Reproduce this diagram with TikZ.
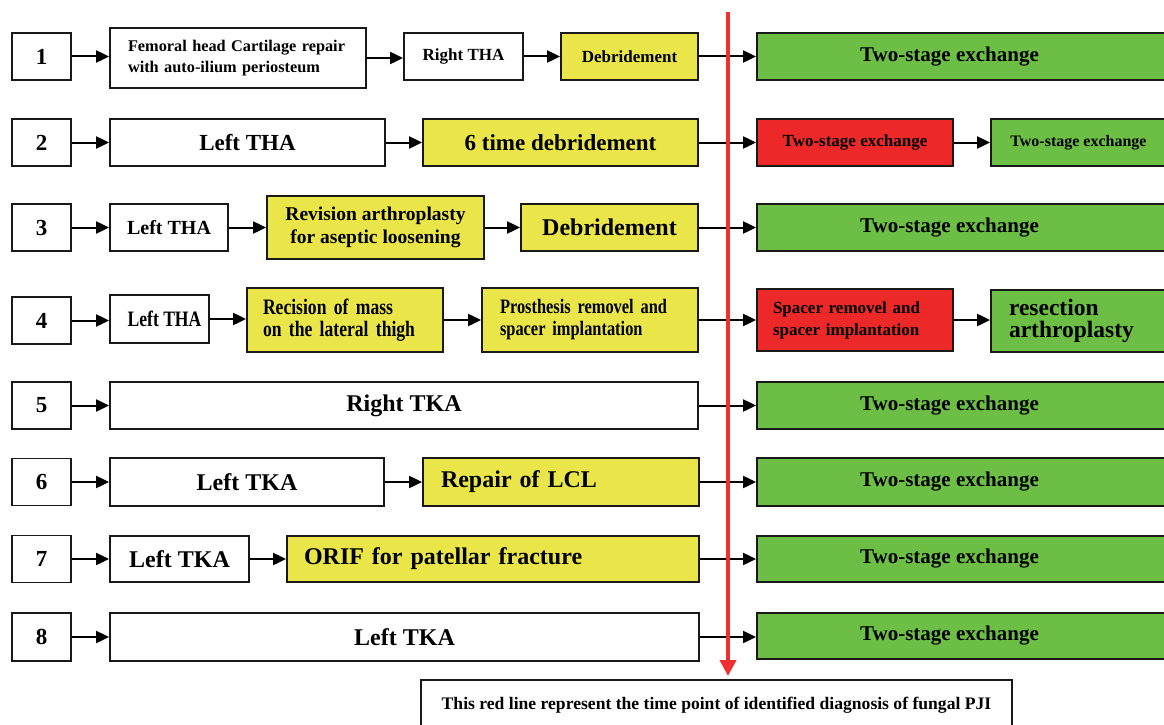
\documentclass[tikz,border=0pt]{standalone}
\usepackage{fontspec}
\setmainfont{Liberation Serif}
\newfontfamily\condfont[FakeStretch=0.8]{Liberation Serif}
\usetikzlibrary{arrows.meta}
\definecolor{ylw}{RGB}{234,230,74}
\definecolor{grn}{RGB}{108,190,69}
\definecolor{rd}{RGB}{236,40,40}
\definecolor{redline}{RGB}{240,48,48}
\tikzset{
  bx/.style={draw=black!90, line width=1.8pt, inner sep=0pt, align=center, font=\bfseries},
  numbox/.style={bx, minimum width=59pt, minimum height=47pt, font=\bfseries\fontsize{23}{26}\selectfont},
  yl/.style={fill=ylw},
  gn/.style={fill=grn},
  rdf/.style={fill=rd},
  arr/.style={line width=2pt, -{Triangle[length=13pt,width=12pt]}},
  redarr/.style={draw=redline, line width=4pt, -{Triangle[length=16pt,width=16pt]}},
  twostage/.style={bx, gn, minimum width=415pt, minimum height=47pt, font=\bfseries\fontsize{21}{24}\selectfont},
}
\begin{document}
\begin{tikzpicture}[x=1pt,y=-1pt]
\useasboundingbox[fill=white] (0,0) rectangle (1164,725);

% Row 1
\node[numbox] (n1) at (41.5,56.5) {1};
\node[bx, minimum width=256pt, minimum height=60pt, text width=220pt, align=left,
      font=\bfseries\fontsize{16.3}{21}\selectfont] (a1) at (238,58)
      {Femoral head Cartilage repair\\with auto-ilium periosteum};
\node[bx, minimum width=119pt, minimum height=47pt, font=\bfseries\fontsize{17}{20}\selectfont] (b1) at (463.5,56.5) {Right THA};
\node[bx, yl, minimum width=137pt, minimum height=47pt, font=\bfseries\fontsize{17}{20}\selectfont] (c1) at (629.5,56.5) {Debridement};
\node[twostage] (g1) at (964.5,56.5) {Two-stage exchange\kern30pt};

% Row 2
\node[numbox] (n2) at (41.5,142.5) {2};
\node[bx, minimum width=275pt, minimum height=47pt, font=\bfseries\fontsize{23}{26}\selectfont] (a2) at (247.5,142.5) {Left THA};
\node[bx, yl, minimum width=275pt, minimum height=47pt, font=\bfseries\fontsize{23}{26}\selectfont] (b2) at (560.5,142.5) {6 time debridement};
\node[bx, rdf, minimum width=196pt, minimum height=47pt, font=\bfseries\fontsize{17}{20}\selectfont] (r2) at (855,142.5) {Two-stage exchange};
\node[bx, gn, minimum width=181pt, minimum height=47pt, font=\bfseries\fontsize{16}{19}\selectfont] (g2) at (1081.5,142.5) {Two-stage exchange\kern6pt};

% Row 3
\node[numbox] (n3) at (41.5,227.5) {3};
\node[bx, minimum width=118pt, minimum height=47pt, font=\bfseries\fontsize{20}{23}\selectfont] (a3) at (169,227.5) {Left THA};
\node[bx, yl, minimum width=217pt, minimum height=63pt, font=\bfseries\fontsize{19.5}{23}\selectfont] (b3) at (375.5,227.5) {Revision arthroplasty\\for aseptic loosening};
\node[bx, yl, minimum width=177pt, minimum height=47pt, font=\bfseries\fontsize{24}{27}\selectfont] (c3) at (609.5,227.5) {Debridement};
\node[twostage] (g3) at (964.5,227.5) {Two-stage exchange\kern30pt};

% Row 4
\node[numbox] (n4) at (41.5,320.5) {4};
\node[bx, minimum width=99pt, minimum height=48pt, font=\condfont\bfseries\fontsize{22}{25}\selectfont] (a4) at (159.5,319) {\kern10pt Left THA};
\node[bx, yl, minimum width=196pt, minimum height=64pt, text width=164pt, align=left,
      font=\condfont\bfseries\fontsize{22}{22}\selectfont] (b4) at (345,320) {Recision of mass\\on the lateral thigh};
\node[bx, yl, minimum width=216pt, minimum height=64pt, text width=180pt, align=left,
      font=\condfont\bfseries\fontsize{20.5}{22}\selectfont] (c4) at (590,320) {Prosthesis removel and\\spacer implantation};
\node[bx, rdf, minimum width=196pt, minimum height=62pt, text width=164pt, align=left,
      font=\bfseries\fontsize{17}{22}\selectfont] (r4) at (855,320) {Spacer removel and\\spacer implantation};
\node[bx, gn, minimum width=181pt, minimum height=62pt, text width=145pt, align=left,
      font=\bfseries\fontsize{23.5}{22.5}\selectfont] (g4) at (1081.5,321) {resection\\arthroplasty};

% Row 5
\node[numbox] (n5) at (41.5,405.5) {5};
\node[bx, minimum width=588pt, minimum height=47pt, font=\bfseries\fontsize{24}{27}\selectfont] (a5) at (404,405.5) {Right TKA};
\node[twostage] (g5) at (964.5,405.5) {Two-stage exchange\kern30pt};

% Row 6
\node[numbox] (n6) at (41.5,482) {6};
\node[bx, minimum width=274pt, minimum height=48pt, font=\bfseries\fontsize{24}{27}\selectfont] (a6) at (247,482) {Left TKA};
\node[bx, yl, minimum width=276pt, minimum height=48pt, text width=240pt, align=left,
      font=\bfseries\fontsize{24}{27}\selectfont] (b6) at (561,482) {Repair of LCL};
\node[twostage, minimum height=48pt] (g6) at (964.5,482) {Two-stage exchange\kern30pt};

% Row 7
\node[numbox] (n7) at (41.5,559) {7};
\node[bx, minimum width=139pt, minimum height=46pt, font=\bfseries\fontsize{24}{27}\selectfont] (a7) at (179.5,559) {Left TKA};
\node[bx, yl, minimum width=412pt, minimum height=46pt, text width=378pt, align=left,
      font=\bfseries\fontsize{24}{27}\selectfont] (b7) at (493,559) {ORIF for patellar fracture};
\node[twostage, minimum height=46pt] (g7) at (964.5,559) {Two-stage exchange\kern30pt};

% Row 8
\node[numbox, minimum height=48pt] (n8) at (41.5,637) {8};
\node[bx, minimum width=589pt, minimum height=48pt, font=\bfseries\fontsize{24}{27}\selectfont] (a8) at (404.5,637) {Left TKA};
\node[twostage, minimum height=46pt] (g8) at (964.5,636) {Two-stage exchange\kern30pt};

% Bottom note
\node[bx, minimum width=591pt, minimum height=51pt, font=\bfseries\fontsize{17.6}{20}\selectfont] (note) at (716.5,705.5)
  {This red line represent the time point of identified diagnosis of fungal PJI};

% Connectors
\foreach \s/\t in {n1/a1, a1/b1, b1/c1, c1/g1,
                   n2/a2, a2/b2, b2/r2, r2/g2,
                   n3/a3, a3/b3, b3/c3, c3/g3,
                   n4/a4, a4/b4, b4/c4, c4/r4, r4/g4,
                   n5/a5, a5/g5,
                   n6/a6, a6/b6, b6/g6,
                   n7/a7, a7/b7, b7/g7,
                   n8/a8, a8/g8}
  \draw[arr] (\s.east |- \s.center) -- (\s.center -| \t.west);

% Red time line
\coordinate (rtop) at (728,12);
\coordinate (rtip) at (728,676);
\draw[redarr] (rtop) -- (rtip);
\end{tikzpicture}
\end{document}
